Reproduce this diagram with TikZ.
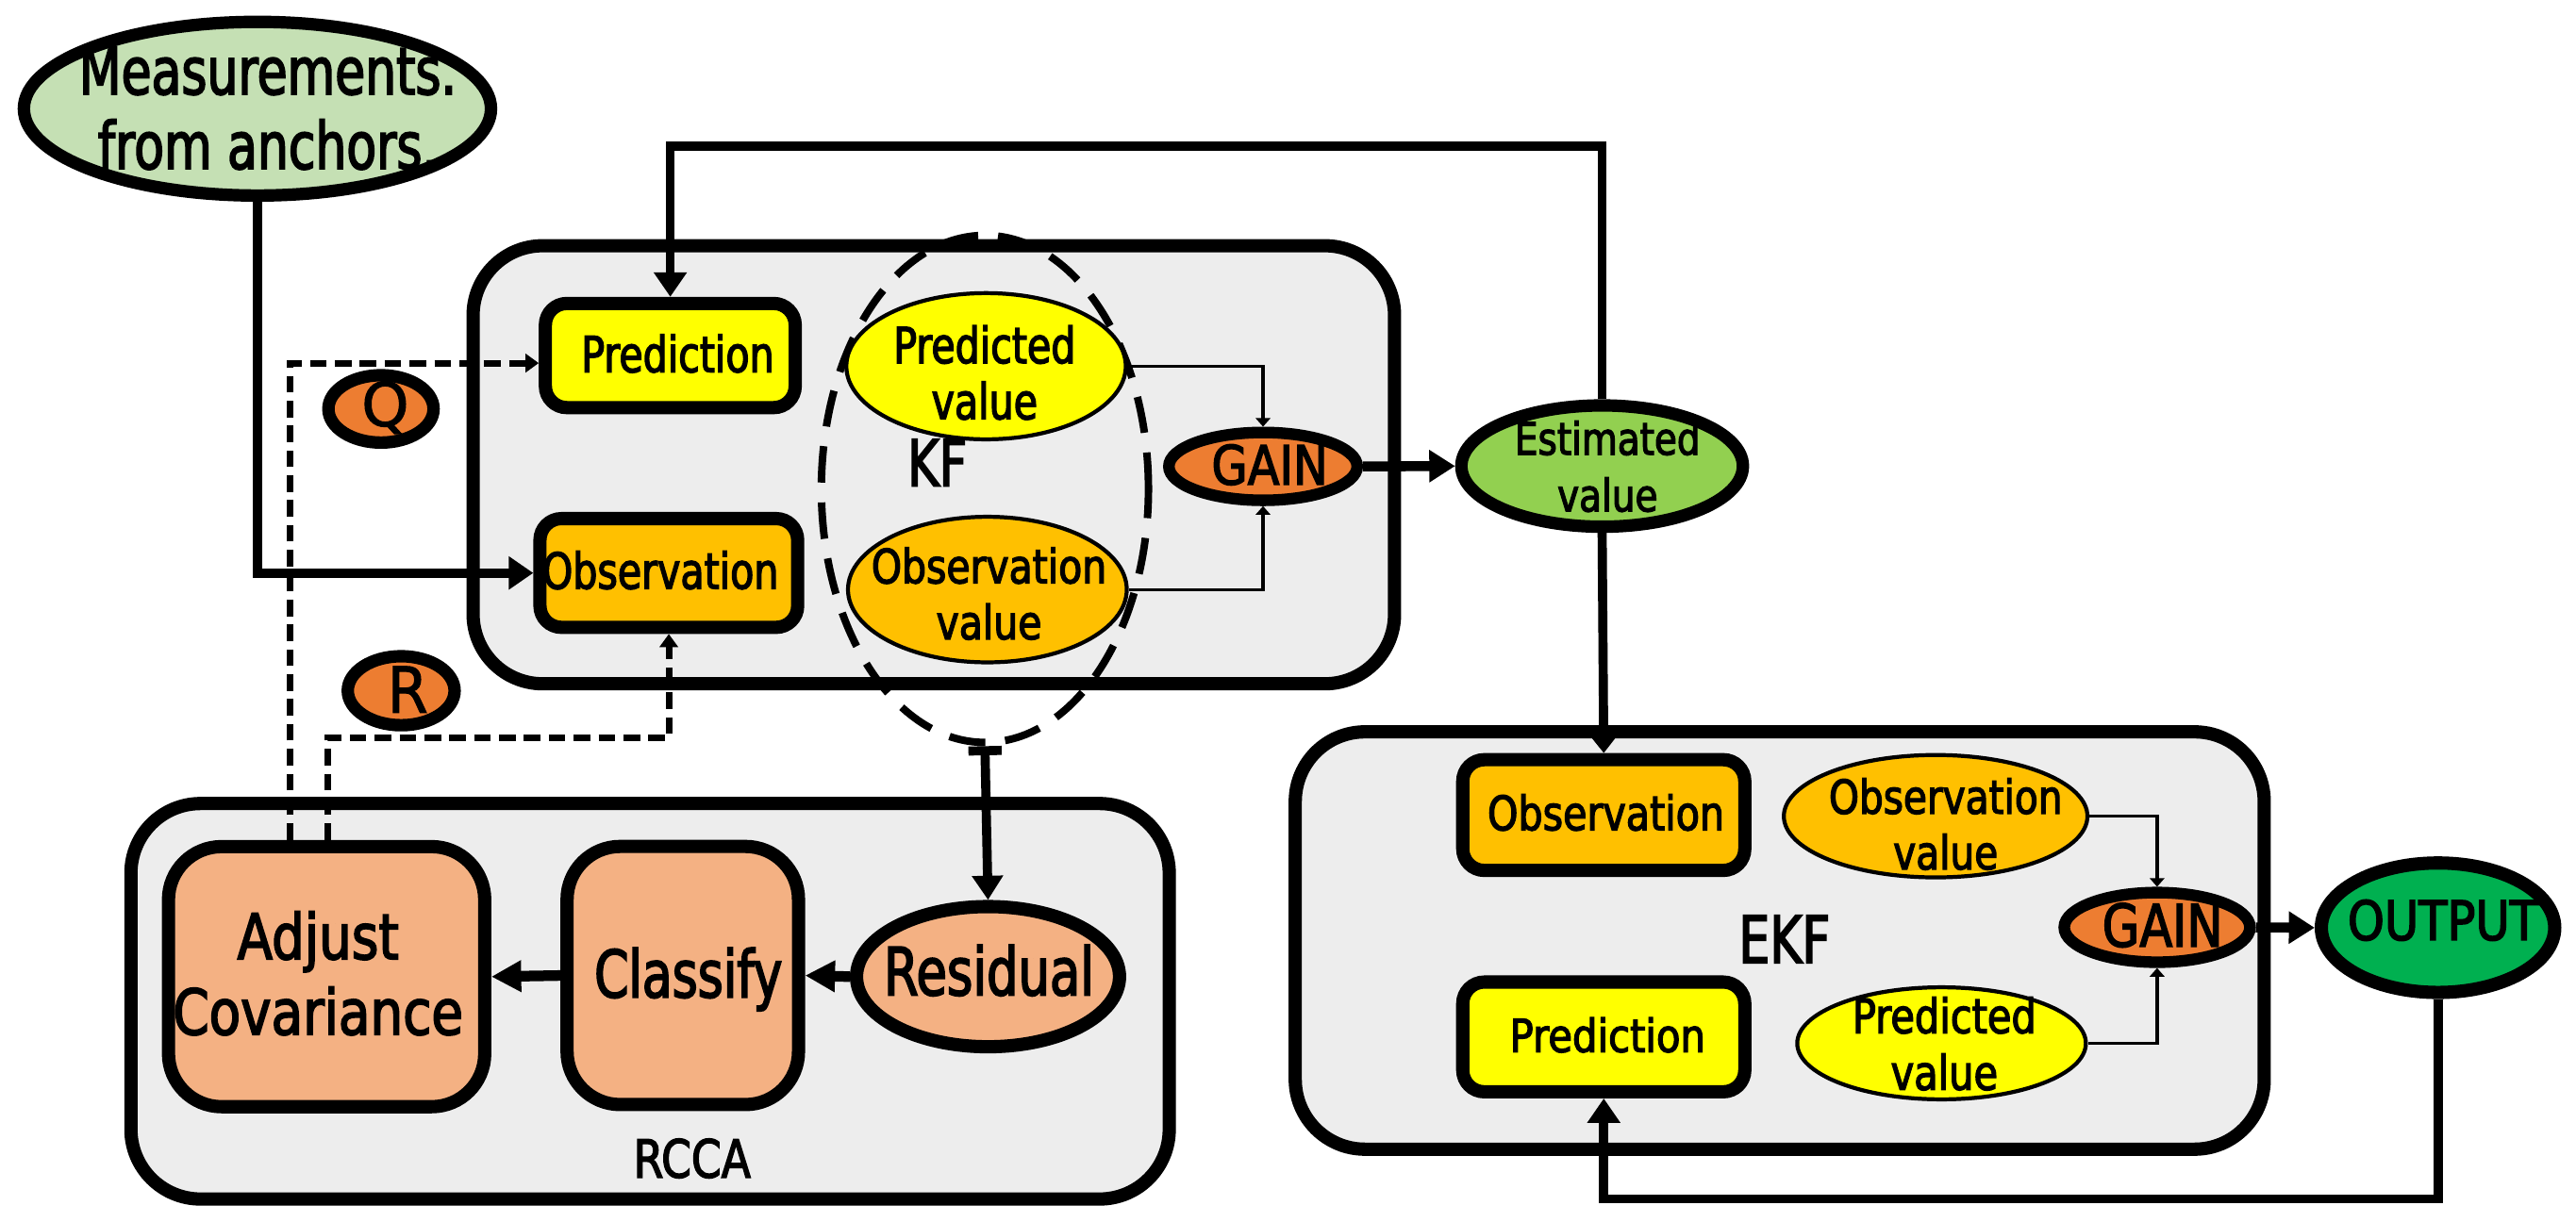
\documentclass[tikz,border=0pt]{standalone}
\usepackage{fontspec}
\usepackage{graphicx}
\usetikzlibrary{shapes.geometric,arrows.meta}
\newfontfamily\fa{DejaVu Sans}[FakeStretch=0.75,FakeBold=2.5]
\newfontfamily\fb{DejaVu Sans}[FakeStretch=0.78,FakeBold=2.5]
\newfontfamily\fc{DejaVu Sans}[FakeStretch=0.82,FakeBold=2.5]
\newfontfamily\fd{DejaVu Sans}[FakeStretch=0.86,FakeBold=2.5]
\newfontfamily\fe{DejaVu Sans}[FakeStretch=0.92,FakeBold=1.5]
\newfontfamily\ff{DejaVu Sans}[FakeBold=1.5]
\newcommand{\fs}[2]{\fontsize{#1}{#2}\selectfont}
\definecolor{contgray}{HTML}{EDEDED}
\definecolor{measgreen}{HTML}{C5E0B4}
\definecolor{gainorg}{HTML}{ED7D31}
\definecolor{predyel}{HTML}{FFFF00}
\definecolor{obsorg}{HTML}{FFC000}
\definecolor{estgreen}{HTML}{92D050}
\definecolor{outgreen}{HTML}{00B050}
\definecolor{peach}{HTML}{F4B183}
\def\dpx{0.4956pt}
\begin{document}
\begin{tikzpicture}[x=0.0174171cm, y=-0.0174171cm,
  cont/.style={draw, line width=4pt, fill=contgray, rounded corners=21pt, inner sep=0pt},
  box/.style={draw, line width=4pt, rounded corners=6.5pt, inner sep=0pt},
  ell/.style={ellipse, draw, inner sep=0pt},
  thinell/.style={line width=1.2pt},
  lbl/.style={inner sep=0pt, align=center},
  conn/.style={line width=2.75pt, -{Triangle[length=7.4pt,width=9.6pt]}},
  conntwo/.style={line width=3.2pt, -{Triangle[length=9pt,width=9pt]}},
  thickarr/.style={line width=3pt, -{Triangle[length=7.8pt,width=9.3pt]}},
  thinarr/.style={line width=1pt, -{Triangle[length=2.6pt,width=4.4pt]}},
  dsh/.style={line width=2pt, dash pattern=on 5pt off 2.5pt, -{Triangle[length=4pt,width=5.5pt]}}
]
\useasboundingbox (0,0) rectangle (1568,743.6);

% containers
\node[cont, minimum width=560.6*\dpx, minimum height=266.6*\dpx] (kf) at (568.4,283) {};
\node[cont, minimum width=631.7*\dpx, minimum height=240.7*\dpx] (rcca) at (395.7,609.7) {};
\node[cont, minimum width=589.5*\dpx, minimum height=254*\dpx] (ekf) at (1083.3,572.7) {};

% measurements
\node[ell, line width=3.75pt, fill=measgreen, minimum width=284.2*\dpx, minimum height=105.7*\dpx] (meas) at (156.7,66.2) {};

% KF contents
\node[box, fill=predyel, minimum width=152*\dpx, minimum height=63.4*\dpx] (kfpred) at (408,216.5) {};
\node[box, fill=obsorg, minimum width=156.8*\dpx, minimum height=66.2*\dpx] (kfobs) at (407.1,348.9) {};
\node[ellipse, draw, inner sep=0pt, line width=2.25pt, dash pattern=on 11pt off 6pt, minimum width=199*\dpx, minimum height=308.6*\dpx] (kfell) at (599.5,297.7) {};
\node[ell, thinell, fill=predyel, minimum width=170*\dpx, minimum height=89*\dpx] (kfpv) at (600.2,223) {};
\node[ell, thinell, fill=obsorg, minimum width=169.6*\dpx, minimum height=88.6*\dpx] (kfov) at (601,359) {};
\node[ell, line width=3.5pt, fill=gainorg, minimum width=114.6*\dpx, minimum height=41.3*\dpx] (kfgain) at (768.8,284) {};
\node[ell, line width=3.75pt, fill=estgreen, minimum width=171.3*\dpx, minimum height=73.8*\dpx] (est) at (975.2,283.8) {};

% Q and R
\node[ell, line width=3.75pt, fill=gainorg, minimum width=64*\dpx, minimum height=41*\dpx] (q) at (231.9,249) {};
\node[ell, line width=3.75pt, fill=gainorg, minimum width=65*\dpx, minimum height=42*\dpx] (r) at (244.2,420.6) {};

% RCCA contents
\node[box, rounded corners=16pt, fill=peach, minimum width=192.4*\dpx, minimum height=158.3*\dpx] (adj) at (198.8,594.7) {};
\node[box, rounded corners=16pt, fill=peach, minimum width=140.8*\dpx, minimum height=157.1*\dpx] (cls) at (415.6,594) {};
\node[ell, line width=4pt, fill=peach, minimum width=160*\dpx, minimum height=85.3*\dpx] (res) at (601.4,594.7) {};

% EKF contents
\node[box, fill=obsorg, minimum width=171.6*\dpx, minimum height=67.4*\dpx] (ekfobs) at (976.2,496.3) {};
\node[box, fill=predyel, minimum width=171.6*\dpx, minimum height=66.8*\dpx] (ekfpred) at (976.2,631.4) {};
\node[ell, thinell, fill=obsorg, minimum width=184.7*\dpx, minimum height=74.5*\dpx] (ekfov) at (1178.2,497) {};
\node[ell, thinell, fill=predyel, minimum width=175.6*\dpx, minimum height=68.2*\dpx] (ekfpv) at (1181.8,635.3) {};
\node[ell, line width=3.5pt, fill=gainorg, minimum width=113*\dpx, minimum height=42.4*\dpx] (ekfgain) at (1313,564.7) {};
\node[ell, line width=4pt, fill=outgreen, minimum width=142*\dpx, minimum height=78.8*\dpx] (out) at (1484,564.9) {};

% texts
\node[lbl, font=\fa\fs{19.7}{22.5}] (tmeas) at (163,65.9) {Measurements.\\from anchors.};
\node[lbl, anchor=base, font=\fb\fs{15}{18}] (tkfpred) at (412.5,226.6) {Prediction};
\node[lbl, anchor=base, font=\fb\fs{15}{18}] (tkfobs) at (402,358.5) {Observation};
\node[lbl, font=\fb\fs{15}{16.9}] (tkfpv) at (599.3,226.9) {Predicted\\value};
\node[lbl, font=\fc\fs{14.2}{16.9}] (tkfov) at (602,361.5) {Observation\\value};
\node[lbl, anchor=base, font=\fa\fs{19.4}{22}] (tkf) at (570.5,296) {KF};
\node[lbl, anchor=base, font=\fd\fs{16.3}{19}] (tkfgain) at (772.9,295) {GAIN};
\node[lbl, font=\fc\fs{13.5}{17.1}] (test) at (978.5,284) {Estimated\\value};
\node[lbl, anchor=base, font=\ff\fs{18.2}{20}] (tq) at (234.5,259.4) {Q};
\node[lbl, anchor=base, font=\fe\fs{19.2}{22}] (tr) at (248.2,434) {R};
\node[lbl, font=\fc\fs{19}{22.75}] (tadj) at (193.6,592.7) {Adjust\\Covariance};
\node[lbl, anchor=base, font=\fa\fs{19.7}{22}] (tcls) at (419,607.3) {Classify};
\node[lbl, anchor=base, font=\fa\fs{20}{22}] (tres) at (602,606) {Residual};
\node[lbl, anchor=base, font=\fc\fs{15.8}{18}] (trcca) at (421.3,717) {RCCA};
\node[lbl, anchor=base, font=\fa\fs{19.7}{22}] (tekf) at (1086.2,586.4) {EKF};
\node[lbl, anchor=base, font=\fc\fs{14.3}{17}] (tekfobs) at (977.5,505.5) {Observation};
\node[lbl, anchor=base, font=\fd\fs{13.8}{17}] (tekfpred) at (978.5,640.6) {Prediction};
\node[lbl, font=\fc\fs{14.1}{16.8}] (tekfov) at (1184.3,501.8) {Observation\\value};
\node[lbl, font=\fc\fs{14.4}{17.1}] (tekfpv) at (1183.5,635.5) {Predicted\\value};
\node[lbl, anchor=base, font=\fc\fs{17.7}{20}] (tekfgain) at (1316.3,576.4) {GAIN};
\node[lbl, anchor=base, font=\fd\fs{16.4}{19}] (tout) at (1487,572.4) {OUTPUT};

% connectors
\coordinate (fbtop) at (975,89);
\coordinate (fbbot) at (1483.2,730);
\coordinate (dq) at (176.3,221.1);
\coordinate (dr) at (199.3,449.4);

\draw[dsh] (adj.north -| dq) -- (dq) -- (kfpred.west |- dq);
\draw[dsh] (adj.north -| dr) -- (dr) -| (kfobs.south);
\draw[conn] (meas.south) |- (kfobs.west);
\draw[conn] (est.north) -- (est.north |- fbtop) -| (kfpred.north);
\draw[conn, -{Triangle[length=5pt,width=7.5pt]}] (est.south) -- (ekfobs.north);
\draw[thickarr] (kfgain.east) -- (est.west);
\draw[thinarr] (kfpv.east) -| (kfgain.north);
\draw[thinarr] (kfov.east) -| (kfgain.south);
\draw[conn, {Bar[width=10pt]}-{Triangle[length=7.3pt,width=9pt]}] (kfell.south) -- (res.north);
\draw[conntwo] (res.west) -- (cls.east);
\draw[conntwo] (cls.west) -- (adj.east);
\draw[thinarr] (ekfov.east) -| (ekfgain.north);
\draw[thinarr] (ekfpv.east) -| (ekfgain.south);
\draw[thickarr] (ekfgain.east) -- (out.west);
\draw[conn] (out.south) -- (out.south |- fbbot) -| (ekfpred.south);
\end{tikzpicture}
\end{document}
